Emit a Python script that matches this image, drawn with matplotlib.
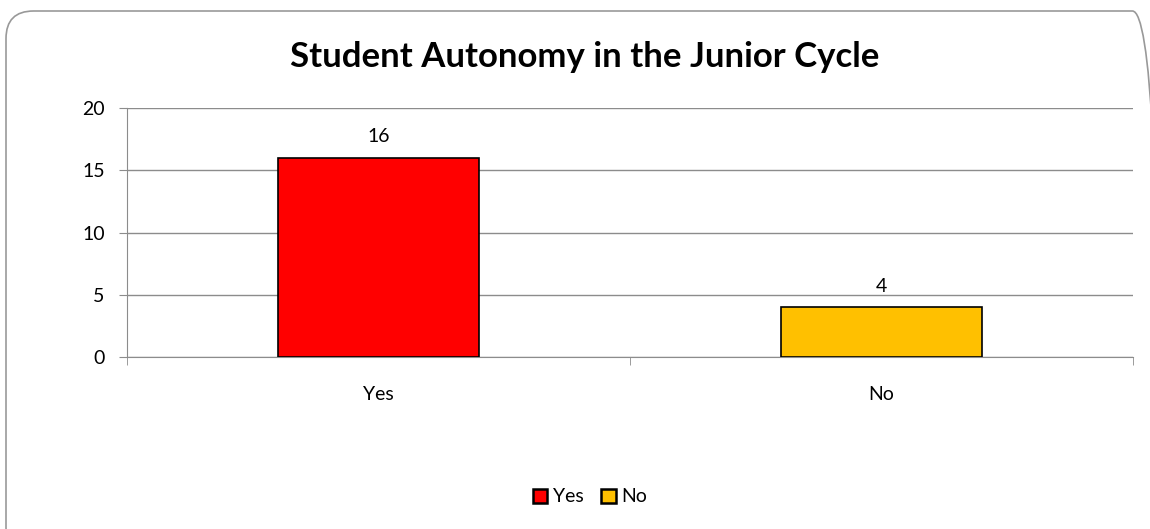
import matplotlib.pyplot as plt
from matplotlib.patches import FancyBboxPatch, Patch

categories = ["Yes", "No"]
values = [16, 4]
colors = ["#FF0000", "#FFC000"]
yticks = [0, 5, 10, 15, 20]

plt.rcParams["font.family"] = ["Lato", "DejaVu Sans"]

fig = plt.figure(figsize=(11.5, 5.29), dpi=100)

# rounded chart frame, cut off on the right and bottom like the original
frame = FancyBboxPatch((6 / 1150, -0.05), 1160 / 1150 - 6 / 1150, 1 - 11 / 529 + 0.05,
                       boxstyle="round,pad=0,rounding_size=0.024",
                       transform=fig.transFigure, facecolor="none",
                       edgecolor="#999999", linewidth=1.2, zorder=-1,
                       mutation_aspect=1150 / 529)
fig.patches.append(frame)

ax = fig.add_axes([127 / 1150, 1 - 357 / 529, (1133 - 127) / 1150, (357 - 108) / 529])
ax.set_facecolor("none")

x = list(range(len(categories)))
ax.bar(x, values, width=0.4, color=colors, edgecolor="black", linewidth=1.2, zorder=3)
for xi, v in zip(x, values):
    ax.text(xi, v + 1.0, str(v), ha="center", va="bottom", fontsize=14)

ax.set_xlim(-0.5, 1.5)
ax.set_ylim(0, 20)
ax.set_yticks(yticks)
ax.yaxis.grid(True, color="#8c8c8c", linewidth=1)
ax.set_axisbelow(True)
for s in ["top", "right"]:
    ax.spines[s].set_visible(False)
ax.spines["left"].set_color("#8c8c8c")
ax.spines["bottom"].set_color("#8c8c8c")
ax.set_xticks(x)
ax.set_xticklabels(categories, fontsize=14)
ax.set_xticks([-0.5, 0.5, 1.5], minor=True)
ax.tick_params(axis="x", which="major", length=0, pad=21)
ax.tick_params(axis="x", which="minor", length=6, color="#8c8c8c")
ax.tick_params(axis="y", length=6, color="#8c8c8c", labelsize=14, pad=10)

fig.text(585 / 1150, 1 - 57 / 529, "Student Autonomy in the Junior Cycle",
         ha="center", va="center", fontsize=25, fontweight="bold")

handles = [Patch(facecolor=c, edgecolor="black", linewidth=1.8, label=l)
           for c, l in zip(colors, categories)]
fig.legend(handles=handles, loc="center", bbox_to_anchor=(590 / 1150, 1 - 497 / 529),
           ncol=2, frameon=False, fontsize=14, handlelength=0.75, handleheight=0.75,
           handletextpad=0.3, columnspacing=0.9)

fig.savefig("out.png", dpi=100)
